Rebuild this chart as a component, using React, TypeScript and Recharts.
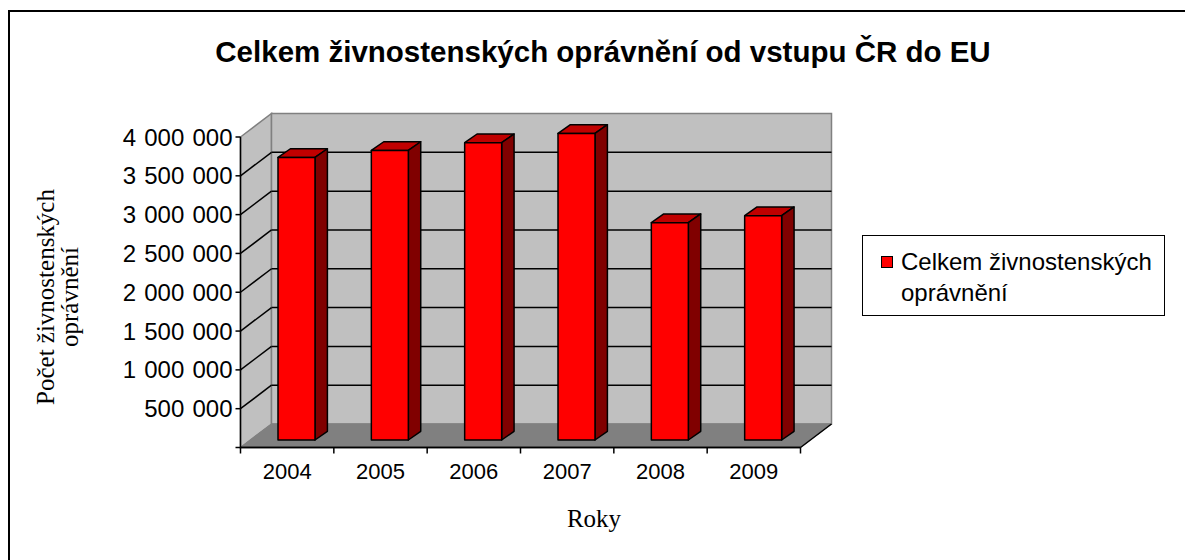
import { Bar, BarChart, ReferenceArea, XAxis, YAxis } from "recharts";

const years = ["2004", "2005", "2006", "2007", "2008", "2009"];
const licences = [3640000, 3730000, 3830000, 3950000, 2800000, 2890000];
const yTicks = [0, 500000, 1000000, 1500000, 2000000, 2500000, 3000000, 3500000, 4000000];

const data = years.map((year, i) => ({ year, value: licences[i] }));

// oblique 3D offsets (Excel-style 3D column chart)
const WALL = { dx: 31, dy: -23.5 };
const BAR_SHIFT = { dx: 9.5, dy: -7.5 };
const BAR_DEPTH = { dx: 12.4, dy: -8.7 };

const sans = "'Liberation Sans', Arial, sans-serif";
const serif = "'Liberation Serif', 'Times New Roman', serif";

const fmt = (v: number) => String(v).replace(/\B(?=(\d{3})+(?!\d))/g, " ");

function Walls(props: any) {
  const { x, y, width, height } = props;
  const L = x;
  const R = x + width;
  const T = y;
  const B = y + height;
  const max = yTicks[yTicks.length - 1];
  const { dx, dy } = WALL;
  const step = width / years.length;
  return (
    <g>
      <polygon
        points={`${L},${B} ${L},${T} ${L + dx},${T + dy} ${L + dx},${B + dy}`}
        fill="#c0c0c0"
        stroke="#808080"
        strokeWidth={1.5}
      />
      <rect x={L + dx} y={T + dy} width={width} height={height} fill="#c0c0c0" stroke="#808080" strokeWidth={1.5} />
      {yTicks.slice(1, -1).map((v) => {
        const yy = B - (v / max) * height;
        return (
          <g key={v} stroke="#000" strokeWidth={1.5}>
            <line x1={L + dx} x2={R + dx} y1={yy + dy} y2={yy + dy} />
            <line x1={L} y1={yy} x2={L + dx} y2={yy + dy} />
          </g>
        );
      })}
      <polygon
        points={`${L},${B} ${R},${B} ${R + dx},${B + dy} ${L + dx},${B + dy}`}
        fill="#808080"
        stroke="#808080"
        strokeWidth={1}
      />
      <line x1={R} y1={B} x2={R + dx} y2={B + dy} stroke="#000" strokeWidth={1.5} />
      <line x1={L} y1={B} x2={R} y2={B} stroke="#000" strokeWidth={1.5} />
      {years.map((_, i) => (
        <line key={i} x1={L + i * step} x2={L + i * step} y1={B} y2={B + 6} stroke="#000" strokeWidth={1.5} />
      ))}
      <line x1={R} x2={R} y1={B} y2={B + 6} stroke="#000" strokeWidth={1.5} />
    </g>
  );
}

function Box(props: any) {
  const { x, y, width, height } = props;
  const fx = x + BAR_SHIFT.dx;
  const fy = y + BAR_SHIFT.dy;
  const { dx, dy } = BAR_DEPTH;
  return (
    <g stroke="#000" strokeWidth={1.5} strokeLinejoin="round">
      <polygon
        points={`${fx},${fy} ${fx + dx},${fy + dy} ${fx + width + dx},${fy + dy} ${fx + width},${fy}`}
        fill="#c00000"
      />
      <polygon
        points={`${fx + width},${fy} ${fx + width + dx},${fy + dy} ${fx + width + dx},${fy + height + dy} ${fx + width},${fy + height}`}
        fill="#800000"
      />
      <rect x={fx} y={fy} width={width} height={height} fill="#ff0000" />
    </g>
  );
}

function YTick({ x, y, payload }: any) {
  if (payload.value === 0) return <g />;
  return (
    <text
      x={x}
      y={y}
      dy="0.355em"
      textAnchor="end"
      fontSize={24}
      fontFamily={sans}
      fill="#000"
      style={{ wordSpacing: "1.5px" }}
    >
      {fmt(payload.value)}
    </text>
  );
}

export default function App() {
  return (
    <div style={{ position: "absolute", left: 0, top: 0, width: 1185, height: 560, overflow: "hidden", background: "#fff" }}>
      <div
        style={{
          position: "absolute",
          left: 8,
          top: 10,
          width: 1200,
          height: 600,
          border: "2px solid #000",
        }}
      />
      <div
        style={{
          position: "absolute",
          left: 0,
          width: 1206,
          top: 34,
          textAlign: "center",
          fontFamily: sans,
          fontWeight: "bold",
          fontSize: 29.5,
          lineHeight: "36px",
        }}
      >
        Celkem živnostenských oprávnění od vstupu ČR do EU
      </div>
      <BarChart
        width={1185}
        height={560}
        data={data}
        margin={{ top: 137, right: 384.5, bottom: 82.5, left: 80.5 }}
        style={{ position: "absolute", left: 0, top: 0 }}
      >
        <ReferenceArea y1={0} y2={4000000} ifOverflow="visible" shape={<Walls />} />
        <XAxis
          dataKey="year"
          height={30}
          axisLine={{ stroke: "#000", strokeWidth: 1.5 }}
          tickLine={false}
          tickSize={0}
          tickMargin={15.5}
          tick={{ fontSize: 22, fontFamily: sans, fill: "#000" }}
        />
        <YAxis
          width={160}
          domain={[0, 4000000]}
          ticks={yTicks}
          interval={0}
          axisLine={{ stroke: "#000", strokeWidth: 1.5 }}
          tickLine={{ stroke: "#000", strokeWidth: 1.5 }}
          tickSize={5}
          tickMargin={3}
          tick={<YTick />}
        />
        <Bar dataKey="value" barSize={37} shape={<Box />} isAnimationActive={false} />
      </BarChart>
      <div
        style={{
          position: "absolute",
          left: 20,
          top: 297,
          width: 320,
          transform: "translate(-50%, -50%) rotate(-90deg)",
          transformOrigin: "50% 50%",
          marginLeft: 38,
          textAlign: "center",
          fontFamily: serif,
          fontSize: 25,
          lineHeight: "24px",
        }}
      >
        Počet živnostenských
        <br />
        oprávnění
      </div>
      <div
        style={{
          position: "absolute",
          left: 494,
          width: 200,
          top: 504,
          textAlign: "center",
          fontFamily: serif,
          fontSize: 25,
          lineHeight: "30px",
        }}
      >
        Roky
      </div>
      <div
        style={{
          position: "absolute",
          left: 862,
          top: 235,
          width: 301,
          height: 79,
          border: "1px solid #000",
          fontFamily: sans,
          fontSize: 24,
          lineHeight: "31px",
        }}
      >
        <div
          style={{
            position: "absolute",
            left: 18,
            top: 20,
            width: 10,
            height: 10,
            background: "#ff0000",
            border: "1px solid #000",
          }}
        />
        <div style={{ position: "absolute", left: 38, top: 10, whiteSpace: "nowrap" }}>
          Celkem živnostenských
          <br />
          oprávnění
        </div>
      </div>
    </div>
  );
}
